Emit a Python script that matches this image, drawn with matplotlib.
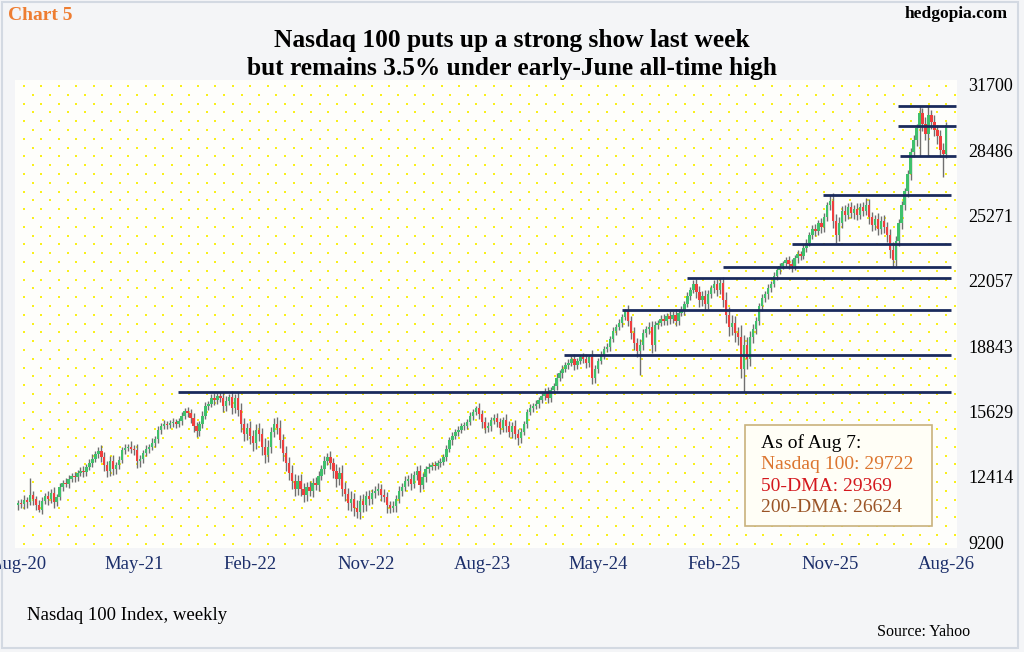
import numpy as np
import matplotlib
matplotlib.use("Agg")
import matplotlib.pyplot as plt
from matplotlib.patches import Rectangle

plt.rcParams['font.family'] = ['Liberation Serif', 'DejaVu Serif']

# weekly closes, Aug-20 .. Aug-26
closes = [
    11100, 11050, 11250, 11150, 11500, 11300, 11000, 10800, 11200, 11450,
    11300, 11600, 11150, 11400, 11900, 12100, 12050, 12300, 12450, 12400,
    12600, 12700, 12650, 12900, 13100, 13300, 13550, 13700, 13400, 13000,
    12700, 13200, 12800, 13000, 13250, 13750, 13850, 13900, 13800, 13750,
    13200, 13300, 13600, 13800, 13900, 14100, 14250, 14700, 14900, 15000,
    14950, 15050, 15100, 15000, 15150, 15400, 15650, 15550, 15300, 14900,
    14650, 15000, 15400, 15900, 16000, 16300, 16200, 16400, 16300, 15900,
    16150, 16350, 15800, 16300, 15700, 15000, 14500, 14800, 14400, 14100,
    14700, 14500, 13900, 13500, 13900, 14600, 15000, 14800, 14200, 13600,
    13100, 12600, 12200, 11800, 12200, 11800, 11500, 11900, 11700, 12100,
    12000, 12450, 12800, 13200, 13400, 13100, 12700, 12300, 12600, 11800,
    11550, 11100, 11300, 10900, 10700, 11200, 11000, 11450, 11300, 11600,
    11700, 11800, 11500, 11400, 11000, 10900, 10950, 11300, 11700, 11900,
    12200, 12300, 12050, 12500, 12700, 12000, 12400, 12800, 12900, 13000,
    12950, 13100, 13150, 13400, 13800, 14200, 14400, 14600, 14700, 14900,
    14900, 15100, 15400, 15600, 15800, 15500, 15100, 14800, 14900, 15200,
    15300, 15100, 14800, 15200, 14900, 14600, 14900, 14500, 14300, 14600,
    15000, 15600, 15800, 15900, 16000, 16200, 16400, 16600, 16300, 16700,
    16900, 17300, 17500, 17700, 17900, 18000, 18200, 17900, 18100, 18300,
    18200, 18000, 18300, 17300, 17700, 18100, 18400, 18700, 18800, 19200,
    19600, 19800, 20000, 20300, 20550, 20100, 19500, 19000, 18600, 18900,
    19500, 19700, 19800, 18900, 19900, 20000, 20200, 20100, 20350, 20200,
    20400, 20100, 20500, 20600, 20900, 21300, 21600, 21900, 21500, 21100,
    21300, 20900, 21400, 21700, 21900, 21600, 21950, 21100, 20400, 19800,
    20000, 19500, 19300, 17700, 18900, 18200, 19300, 19700, 20100, 20800,
    21200, 21400, 21700, 21900, 22300, 22600, 22800, 22950, 23100, 22900,
    22800, 23200, 23400, 23300, 23700, 23900, 24300, 24600, 24500, 24900,
    24700, 25200, 25800, 26000, 25000, 24300, 24900, 25500, 25300, 25700,
    25400, 25600, 25300, 25700, 25500, 25800, 25200, 24800, 25100, 24600,
    25000, 24700, 24300, 23600, 23100, 24000, 24900, 25800, 26500, 27300,
    28400, 29000, 29600, 30300, 29800, 29300, 30200, 29900, 29500, 29200,
    28500, 28300, 29722,
]
first_open = 11000

# wick length above / below the candle body
wick_up = [
    150, 200, 250, 150, 850, 200, 150, 250, 200, 150,
    250, 200, 300, 150, 200, 150, 250, 200, 150, 200,
    150, 200, 250, 150, 200, 250, 150, 200, 300, 250,
    200, 250, 300, 150, 200, 150, 200, 150, 250, 200,
    300, 200, 150, 200, 150, 200, 150, 200, 150, 200,
    150, 150, 200, 150, 150, 200, 150, 200, 200, 250,
    200, 150, 250, 200, 150, 200, 250, 150, 200, 300,
    250, 150, 300, 200, 300, 350, 300, 250, 350, 300,
    300, 350, 300, 400, 300, 250, 300, 350, 400, 300,
    350, 300, 400, 350, 300, 350, 300, 250, 300, 250,
    300, 250, 200, 250, 200, 300, 250, 350, 300, 400,
    350, 300, 400, 300, 350, 300, 350, 250, 300, 200,
    250, 300, 250, 300, 250, 200, 250, 200, 250, 200,
    250, 200, 300, 200, 250, 300, 200, 150, 200, 150,
    200, 150, 200, 150, 200, 150, 200, 150, 200, 150,
    200, 150, 200, 150, 100, 250, 200, 250, 200, 150,
    200, 250, 200, 150, 300, 250, 200, 300, 250, 200,
    150, 150, 200, 150, 200, 150, 150, 200, 250, 150,
    150, 200, 150, 200, 150, 200, 150, 250, 150, 110,
    200, 250, 100, 350, 200, 150, 200, 150, 200, 150,
    200, 150, 200, 150, 100, 300, 250, 300, 250, 300,
    200, 150, 250, 300, 200, 150, 200, 250, 150, 200,
    150, 250, 150, 200, 150, 200, 150, 200, 250, 300,
    250, 300, 200, 150, 200, 250, 230, 300, 400, 350,
    400, 350, 300, 600, 500, 400, 300, 250, 200, 150,
    200, 150, 200, 150, 200, 130, 150, 100, 150, 200,
    250, 150, 200, 150, 150, 200, 150, 200, 250, 150,
    250, 200, 150, 290, 400, 350, 300, 250, 300, 200,
    250, 200, 300, 200, 250, 340, 300, 250, 200, 300,
    250, 300, 250, 300, 350, 250, 200, 200, 150, 200,
    200, 250, 200, 380, 250, 300, 480, 250, 300, 250,
    300, 350, 150,
]
wick_dn = [
    200, 150, 200, 250, 150, 300, 200, 100, 200, 150,
    300, 200, 250, 200, 150, 200, 150, 200, 150, 250,
    200, 150, 250, 200, 150, 200, 150, 200, 250, 300,
    300, 250, 300, 250, 200, 150, 200, 150, 200, 250,
    350, 300, 200, 150, 200, 150, 200, 150, 200, 150,
    200, 150, 200, 200, 150, 200, 150, 200, 250, 300,
    300, 250, 200, 150, 200, 150, 250, 200, 200, 300,
    250, 200, 300, 250, 300, 400, 350, 300, 350, 400,
    300, 350, 400, 400, 350, 300, 250, 300, 350, 400,
    400, 350, 400, 350, 300, 350, 350, 300, 250, 300,
    250, 300, 200, 250, 200, 300, 350, 400, 300, 350,
    350, 300, 350, 400, 300, 350, 300, 250, 300, 250,
    250, 200, 300, 250, 350, 250, 200, 250, 200, 250,
    200, 250, 300, 200, 250, 350, 200, 250, 200, 150,
    200, 150, 200, 150, 200, 150, 200, 150, 200, 150,
    200, 150, 150, 200, 150, 250, 300, 250, 200, 250,
    200, 250, 300, 200, 300, 250, 300, 250, 300, 200,
    150, 200, 150, 200, 150, 200, 150, 200, 250, 200,
    150, 200, 150, 200, 150, 200, 150, 250, 200, 150,
    200, 250, 200, 300, 250, 200, 150, 200, 150, 200,
    150, 200, 150, 200, 150, 250, 300, 350, 300, 1200,
    250, 200, 250, 400, 300, 200, 150, 200, 200, 250,
    200, 250, 200, 150, 200, 150, 200, 150, 300, 350,
    300, 350, 250, 200, 250, 300, 200, 350, 400, 450,
    400, 450, 400, 400, 1130, 500, 350, 300, 250, 200,
    250, 200, 250, 200, 150, 200, 200, 150, 200, 250,
    300, 200, 250, 200, 150, 200, 150, 200, 250, 200,
    300, 250, 200, 250, 350, 400, 300, 250, 300, 200,
    250, 300, 250, 200, 250, 200, 350, 300, 250, 300,
    250, 300, 350, 400, 360, 300, 250, 300, 250, 300,
    300, 250, 300, 1400, 350, 300, 1100, 350, 300, 400,
    350, 1130, 200,
]

# support / resistance levels: (level, first week, last week)
levels = [30680, 29680, 28200, 26290, 23870, 22730, 22180, 20620, 18410, 16570]
level_start = [295.8, 295.8, 296.5, 270.6, 260.0, 236.9, 224.8, 203.0, 183.5, 53.8]
level_end = [315.3, 315.3, 315.3, 313.5, 313.5, 313.5, 313.5, 313.5, 313.5, 313.5]

xtick_pos = [0, 39, 78, 117, 156, 195, 234, 273, 312]
xtick_labels = ['Aug-20', 'May-21', 'Feb-22', 'Nov-22', 'Aug-23',
                'May-24', 'Feb-25', 'Nov-25', 'Aug-26']
yticks = [9200, 12414, 15629, 18843, 22057, 25271, 28486, 31700]

closes = np.array(closes, dtype=float)
opens = np.concatenate([[first_open], closes[:-1]])
assert len(closes) == len(wick_up) == len(wick_dn)
body_top = np.maximum(opens, closes)
body_bot = np.minimum(opens, closes)
highs = body_top + np.array(wick_up)
lows = body_bot - np.array(wick_dn)
idx = np.arange(len(closes))
up = closes >= opens

W, H = 1024, 652
fig = plt.figure(figsize=(W / 100, H / 100), dpi=100, facecolor='#f4f5f7')

# plot area in pixels: x 15..957, y 80..548
ax = fig.add_axes([15 / W, 1 - 548 / H, 942 / W, 468 / H])
ax.set_facecolor('#fefefb')
ax.set_xlim(-1.01, 315.6)
ax.set_ylim(8907, 31946)
for s in ax.spines.values():
    s.set_visible(False)

# yellow dotted background (staggered)
dx, dy = 17.4, 8.8
pts = []
row = 0
yy = 86.0
while yy < 546:
    xx = 24.0 + (dx / 2 if row % 2 else 0)
    while xx < 956:
        pts.append(((xx - 15) / 942, (548 - yy) / 468))
        xx += dx
    yy += dy
    row += 1
pts = np.array(pts)
ax.scatter(pts[:, 0], pts[:, 1], s=2.0, marker='s', color='#f9f01c',
           linewidths=0, transform=ax.transAxes, zorder=0)

# candles
ax.vlines(idx, lows, highs, color='#707070', lw=1.0, zorder=2)
heights = np.maximum(body_top - body_bot, 40)
ax.bar(idx[up], heights[up], bottom=body_bot[up], width=0.8,
       color='#3fc06c', zorder=3, linewidth=0)
ax.bar(idx[~up], heights[~up], bottom=body_bot[~up], width=0.8,
       color='#f03e3e', zorder=3, linewidth=0)

# horizontal levels
for lv, a, b in zip(levels, level_start, level_end):
    ax.hlines(lv, a, b, color='#1a2a5c', lw=2.0, zorder=4)

ax.yaxis.tick_right()
ax.set_yticks(yticks)
ax.set_yticklabels([str(v) for v in yticks], fontsize=13, color='black')
ax.set_xticks(xtick_pos)
ax.set_xticklabels(xtick_labels, fontsize=13.5, color='#1c2f6b')
ax.tick_params(axis='y', length=0, pad=8)
ax.tick_params(axis='x', length=0, pad=6)

# texts
def px(x, y):
    return x / W, 1 - y / H

fig.text(*px(8, 16), 'Chart 5', fontsize=14, fontweight='bold',
         color='#ee7d31', ha='left', va='center')
fig.text(*px(1008, 14), 'hedgopia.com', fontsize=12.5, fontweight='bold',
         color='black', ha='right', va='center')
fig.text(*px(512, 40), 'Nasdaq 100 puts up a strong show last week',
         fontsize=18.3, fontweight='bold', ha='center', va='center')
fig.text(*px(512, 68), 'but remains 3.5% under early-June all-time high',
         fontsize=18.3, fontweight='bold', ha='center', va='center')
fig.text(*px(27, 616), 'Nasdaq 100 Index, weekly', fontsize=13.5,
         ha='left', va='center')
fig.text(*px(970, 632), 'Source: Yahoo', fontsize=11.5, ha='right', va='center')

# info box
fig.patches.append(Rectangle(px(745, 526), 187 / W, 101 / H,
                             transform=fig.transFigure, facecolor='#fffef6',
                             edgecolor='#c9b27c', lw=1.2, zorder=5))
box_lines = [('As of Aug 7:', 'black'),
             ('Nasdaq 100: 29722', '#dc7630'),
             ('50-DMA: 29369', '#d4171d'),
             ('200-DMA: 26624', '#9a5426')]
for k, (t, c) in enumerate(box_lines):
    fig.text(*px(761, 443 + k * 21.6), t, fontsize=14, color=c,
             ha='left', va='center', zorder=6)

# outer frame
fig.patches.append(Rectangle(px(2, 648), 1016 / W, 646 / H,
                             transform=fig.transFigure, fill=False,
                             edgecolor='#d3d9e2', lw=1.5))

fig.savefig('out.png', dpi=100, facecolor=fig.get_facecolor())
